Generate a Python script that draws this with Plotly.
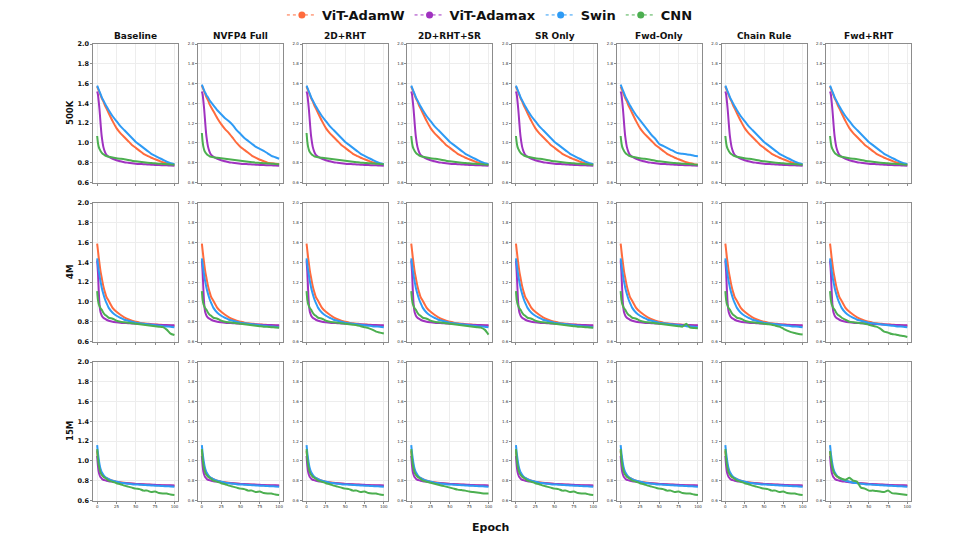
import plotly.graph_objects as go

# ---------------- data ----------------
EPOCHS = [0, 1, 2, 3, 4, 5, 6, 8, 10, 12, 15, 20, 25, 30, 35, 40, 45, 50, 55, 60, 65, 70, 75, 80, 85, 90, 95, 100]
COLUMNS = ["Baseline", "NVFP4 Full", "2D+RHT", "2D+RHT+SR", "SR Only", "Fwd-Only", "Chain Rule", "Fwd+RHT"]
ROWS = ["500K", "4M", "15M"]
SERIES = ["ViT-AdamW", "ViT-Adamax", "Swin", "CNN"]
X_TICKS = [0, 25, 50, 75, 100]
Y_TICKS = [0.6, 0.8, 1.0, 1.2, 1.4, 1.6, 1.8, 2.0]

# 500K
ADAMW_500K = [1.57,1.55,1.53,1.51,1.49,1.47,1.45,1.42,1.38,1.35,1.30,1.22,1.15,1.10,1.06,1.02,0.98,0.95,0.92,0.89,0.87,0.85,0.835,0.82,0.805,0.795,0.785,0.78]
ADAMW_500K_NVFP4 = [1.58,1.56,1.54,1.52,1.50,1.48,1.46,1.43,1.39,1.36,1.32,1.25,1.19,1.14,1.10,1.05,1.00,0.96,0.93,0.90,0.87,0.85,0.83,0.815,0.80,0.795,0.79,0.785]
SWIN_500K = [1.58,1.56,1.54,1.52,1.50,1.48,1.46,1.43,1.40,1.37,1.33,1.27,1.22,1.17,1.13,1.09,1.05,1.01,0.98,0.95,0.92,0.89,0.87,0.85,0.83,0.81,0.795,0.785]
SWIN_500K_NVFP4 = [1.59,1.57,1.55,1.53,1.51,1.50,1.48,1.46,1.43,1.41,1.38,1.33,1.29,1.25,1.22,1.18,1.13,1.09,1.05,1.02,0.99,0.96,0.94,0.92,0.895,0.87,0.855,0.84]
SWIN_500K_FWD = [1.59,1.57,1.55,1.53,1.51,1.49,1.47,1.44,1.41,1.38,1.34,1.28,1.23,1.18,1.13,1.08,1.04,0.99,0.97,0.95,0.93,0.91,0.895,0.89,0.885,0.88,0.87,0.865]
ADAMAX_500K = [1.52,1.49,1.42,1.34,1.24,1.14,1.06,0.96,0.91,0.88,0.86,0.84,0.825,0.815,0.805,0.80,0.795,0.79,0.787,0.785,0.782,0.78,0.778,0.776,0.775,0.774,0.772,0.77]
CNN_500K = [1.07,1.00,0.96,0.94,0.925,0.91,0.90,0.885,0.875,0.868,0.86,0.852,0.845,0.84,0.835,0.828,0.82,0.815,0.81,0.805,0.80,0.797,0.794,0.79,0.788,0.785,0.782,0.78]
CNN_500K_NVFP4 = [1.10,1.01,0.96,0.93,0.91,0.90,0.89,0.875,0.865,0.86,0.855,0.85,0.845,0.84,0.835,0.83,0.825,0.82,0.815,0.81,0.805,0.80,0.798,0.795,0.792,0.79,0.787,0.785]

# 4M
ADAMW_4M = [1.59,1.52,1.45,1.39,1.33,1.28,1.24,1.16,1.10,1.05,1.01,0.94,0.90,0.87,0.845,0.825,0.81,0.80,0.79,0.785,0.78,0.775,0.772,0.77,0.767,0.765,0.762,0.76]
SWIN_4M = [1.44,1.38,1.32,1.27,1.22,1.18,1.14,1.08,1.03,0.99,0.94,0.89,0.86,0.84,0.82,0.81,0.80,0.79,0.785,0.78,0.775,0.77,0.765,0.76,0.755,0.752,0.75,0.745]
ADAMAX_4M = [1.42,1.30,1.12,0.98,0.91,0.88,0.86,0.84,0.83,0.82,0.81,0.80,0.795,0.79,0.787,0.785,0.782,0.78,0.778,0.776,0.774,0.772,0.77,0.768,0.767,0.766,0.765,0.765]
CNN_4M = [1.11,1.02,0.98,0.96,0.94,0.93,0.92,0.89,0.87,0.86,0.84,0.83,0.81,0.80,0.795,0.79,0.785,0.78,0.775,0.77,0.765,0.76,0.755,0.75,0.745,0.72,0.68,0.665]
CNN_4M_FLAT = [1.11,1.02,0.98,0.96,0.94,0.93,0.92,0.89,0.87,0.86,0.84,0.83,0.81,0.80,0.795,0.79,0.785,0.78,0.775,0.77,0.765,0.76,0.755,0.75,0.748,0.745,0.742,0.74]
CNN_4M_2DRHT = [1.11,1.02,0.98,0.96,0.94,0.93,0.92,0.89,0.87,0.86,0.84,0.83,0.81,0.80,0.795,0.79,0.785,0.78,0.775,0.77,0.765,0.755,0.745,0.735,0.72,0.70,0.69,0.68]
CNN_4M_2DRHTSR = [1.11,1.02,0.98,0.96,0.94,0.93,0.92,0.89,0.87,0.86,0.84,0.83,0.81,0.80,0.795,0.79,0.785,0.78,0.775,0.77,0.765,0.76,0.755,0.75,0.745,0.74,0.72,0.67]
CNN_4M_FWD = [1.11,1.02,0.98,0.96,0.94,0.93,0.92,0.89,0.87,0.86,0.84,0.83,0.81,0.80,0.795,0.79,0.785,0.78,0.775,0.77,0.765,0.76,0.755,0.75,0.78,0.74,0.737,0.735]
CNN_4M_CHAIN = [1.11,1.02,0.98,0.96,0.94,0.93,0.92,0.89,0.87,0.86,0.84,0.83,0.81,0.80,0.795,0.79,0.785,0.78,0.775,0.77,0.76,0.75,0.73,0.71,0.695,0.685,0.675,0.67]
CNN_4M_FWDRHT = [1.11,1.02,0.98,0.96,0.94,0.93,0.92,0.89,0.87,0.86,0.84,0.82,0.80,0.795,0.79,0.785,0.78,0.77,0.76,0.75,0.73,0.70,0.69,0.675,0.67,0.66,0.655,0.645]

# 15M
ADAMW_15M = [1.10,1.03,0.98,0.94,0.91,0.89,0.87,0.85,0.835,0.825,0.815,0.80,0.79,0.785,0.78,0.775,0.77,0.768,0.765,0.762,0.76,0.758,0.756,0.754,0.752,0.75,0.75,0.748]
SWIN_15M = [1.16,1.08,1.02,0.97,0.93,0.905,0.885,0.86,0.84,0.83,0.815,0.80,0.79,0.78,0.775,0.77,0.765,0.762,0.76,0.757,0.755,0.752,0.75,0.748,0.746,0.744,0.742,0.74]
ADAMAX_15M = [1.05,0.95,0.89,0.86,0.84,0.83,0.82,0.81,0.805,0.80,0.795,0.79,0.785,0.78,0.777,0.774,0.771,0.768,0.766,0.764,0.762,0.76,0.758,0.756,0.755,0.754,0.753,0.752]
CNN_15M = [1.12,1.02,0.96,0.92,0.89,0.87,0.86,0.84,0.83,0.82,0.80,0.79,0.775,0.765,0.75,0.74,0.73,0.72,0.715,0.70,0.70,0.685,0.69,0.675,0.67,0.67,0.66,0.655]
CNN_15M_2DRHTSR = [1.12,1.02,0.96,0.92,0.89,0.87,0.86,0.84,0.83,0.82,0.80,0.79,0.78,0.77,0.76,0.75,0.74,0.73,0.72,0.71,0.705,0.70,0.69,0.685,0.68,0.675,0.67,0.67]
CNN_15M_FWDRHT = [1.10,1.02,0.97,0.93,0.90,0.88,0.87,0.85,0.84,0.83,0.82,0.81,0.83,0.80,0.79,0.73,0.72,0.70,0.70,0.695,0.69,0.685,0.70,0.675,0.67,0.665,0.66,0.655]

DATA = {
    "500K": {
        "ViT-AdamW": [ADAMW_500K, ADAMW_500K_NVFP4, ADAMW_500K, ADAMW_500K, ADAMW_500K, ADAMW_500K, ADAMW_500K, ADAMW_500K],
        "ViT-Adamax": [ADAMAX_500K] * 8,
        "Swin": [SWIN_500K, SWIN_500K_NVFP4, SWIN_500K, SWIN_500K, SWIN_500K, SWIN_500K_FWD, SWIN_500K, SWIN_500K],
        "CNN": [CNN_500K, CNN_500K_NVFP4, CNN_500K_NVFP4, CNN_500K, CNN_500K, CNN_500K, CNN_500K, CNN_500K],
    },
    "4M": {
        "ViT-AdamW": [ADAMW_4M] * 8,
        "ViT-Adamax": [ADAMAX_4M] * 8,
        "Swin": [SWIN_4M] * 8,
        "CNN": [CNN_4M, CNN_4M_FLAT, CNN_4M_2DRHT, CNN_4M_2DRHTSR, CNN_4M_FLAT, CNN_4M_FWD, CNN_4M_CHAIN, CNN_4M_FWDRHT],
    },
    "15M": {
        "ViT-AdamW": [ADAMW_15M] * 8,
        "ViT-Adamax": [ADAMAX_15M] * 8,
        "Swin": [SWIN_15M] * 8,
        "CNN": [CNN_15M, CNN_15M, CNN_15M, CNN_15M_2DRHTSR, CNN_15M, CNN_15M, CNN_15M, CNN_15M_FWDRHT],
    },
}

COLORS = {"ViT-AdamW": "#FF6B3D", "ViT-Adamax": "#A032C0", "Swin": "#2E9BF5", "CNN": "#4CAF50"}

# ---------------- figure ----------------
W, H = 972, 545
FONT = "DejaVu Sans"
fig = go.Figure()
layout = {}

for r, row in enumerate(ROWS):
    for c, col in enumerate(COLUMNS):
        k = r * 8 + c + 1
        xa = "x" if k == 1 else f"x{k}"
        ya = "y" if k == 1 else f"y{k}"
        for s in SERIES:
            fig.add_trace(go.Scatter(
                x=EPOCHS, y=DATA[row][s][c], mode="lines",
                line=dict(color=COLORS[s], width=2, shape="spline", smoothing=0.5),
                xaxis=xa, yaxis=ya, showlegend=False, hoverinfo="skip"))
        left = 93.3 + c * 104.7
        top = 44 + r * 159
        x0, x1 = left / W, (left + 85) / W
        y0, y1 = 1 - (top + 138.5) / H, 1 - top / H
        first = (c == 0)
        layout["xaxis" if k == 1 else f"xaxis{k}"] = dict(
            domain=[x0, x1], anchor=ya, range=[-5, 105], tickvals=X_TICKS,
            showticklabels=(r == 2), tickfont=dict(family=FONT, size=4, color="#333"),
            ticks="outside", ticklen=2, tickwidth=0.8, tickcolor="#8c8c8c",
            showline=True, linecolor="#8c8c8c", linewidth=1, mirror=True,
            showgrid=True, gridcolor="#ededed", gridwidth=0.6, zeroline=False)
        layout["yaxis" if k == 1 else f"yaxis{k}"] = dict(
            domain=[y0, y1], anchor=xa, range=[0.6, 2.0], tickvals=Y_TICKS,
            ticktext=[f"{v:.1f}" for v in Y_TICKS],
            tickfont=(dict(family=FONT, size=6.5, color="#111", weight="bold") if first
                      else dict(family=FONT, size=4, color="#333")),
            ticks="outside", ticklen=2, tickwidth=0.8, tickcolor="#8c8c8c",
            showline=True, linecolor="#8c8c8c", linewidth=1, mirror=True,
            showgrid=True, gridcolor="#ededed", gridwidth=0.6, zeroline=False)

# legend-only traces
for s in SERIES:
    fig.add_trace(go.Scatter(
        x=[None], y=[None], mode="lines+markers", name=s,
        line=dict(color=COLORS[s], width=1, dash="dot"),
        marker=dict(color=COLORS[s], size=7)))

annotations = []
for c, col in enumerate(COLUMNS):
    cx = (93.3 + c * 104.7 + 42.5) / W
    annotations.append(dict(text=col, x=cx, y=1 - 36 / H, xref="paper", yref="paper",
                            showarrow=False, xanchor="center", yanchor="middle",
                            font=dict(family=FONT, size=9, color="#111", weight="bold")))
for r, row in enumerate(ROWS):
    cy = 1 - (44 + r * 159 + 69) / H
    annotations.append(dict(text=row, x=70 / W, y=cy, xref="paper", yref="paper",
                            showarrow=False, textangle=-90, xanchor="center", yanchor="middle",
                            font=dict(family=FONT, size=8.5, color="#111", weight="bold")))
annotations.append(dict(text="Epoch", x=491 / W, y=1 - 527 / H, xref="paper", yref="paper",
                        showarrow=False, xanchor="center", yanchor="middle",
                        font=dict(family=FONT, size=11, color="#111", weight="bold")))

fig.update_layout(
    width=W, height=H, margin=dict(l=0, r=0, t=0, b=0, autoexpand=False),
    paper_bgcolor="white", plot_bgcolor="white",
    font=dict(family=FONT),
    showlegend=True,
    legend=dict(orientation="h", x=0.504, xanchor="center", y=1.0, yanchor="top",
                yref="container",
                font=dict(family=FONT, size=13, color="#111", weight="bold"),
                itemwidth=30, bgcolor="rgba(0,0,0,0)"),
    annotations=annotations,
    **layout)

fig.write_html("out.html")
